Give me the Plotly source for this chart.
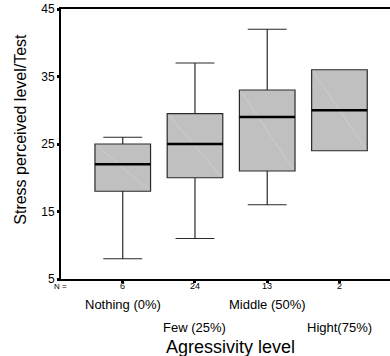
import plotly.graph_objects as go

categories = ["Nothing (0%)", "Few (25%)", "Middle (50%)", "Hight(75%)"]
n_values = ["6", "24", "13", "2"]
lower_whisker = [8, 11, 16, 24]
q1 = [18, 20, 21, 24]
median = [22, 25, 29, 30]
q3 = [25, 29.5, 33, 36]
upper_whisker = [26, 37, 42, 36]
y_ticks = [5, 15, 25, 35, 45]

FONT = "Liberation Sans, Arial, sans-serif"
xs = list(range(len(categories)))
BW = 0.77

fig = go.Figure()
fig.add_trace(go.Box(
    x=xs, q1=q1, median=median, q3=q3,
    lowerfence=lower_whisker, upperfence=upper_whisker,
    fillcolor="#c0c0c0", line=dict(color="#2a2a2a", width=1.2),
    width=BW, whiskerwidth=0.7, boxpoints=False, showlegend=False,
    hoverinfo="skip",
))
# faint diagonal artefact inside boxes and thick medians
for i in xs:
    fig.add_trace(go.Scatter(
        x=[i - BW / 2 + 0.02, i + BW / 2 - 0.02], y=[q3[i] - 0.2, q1[i] + 0.2],
        mode="lines", line=dict(color="#d2d2d2", width=0.7),
        showlegend=False, hoverinfo="skip"))
    fig.add_trace(go.Scatter(
        x=[i - BW / 2, i + BW / 2], y=[median[i], median[i]],
        mode="lines", line=dict(color="#000000", width=2.6),
        showlegend=False, hoverinfo="skip"))

annotations = []
# N labels
annotations.append(dict(x=-0.003, xref="paper", y=-0.026, yref="paper",
                        text="N =", showarrow=False, font=dict(size=8, family=FONT, color="#000"),
                        xanchor="center", yanchor="middle"))
for i in xs:
    annotations.append(dict(x=i, xref="x", y=-0.026, yref="paper", text=n_values[i],
                            showarrow=False, font=dict(size=9, family=FONT, color="#000"),
                            xanchor="center", yanchor="middle"))
    annotations.append(dict(x=i, xref="x", y=-0.096 if i % 2 == 0 else -0.178, yref="paper",
                            text=categories[i], showarrow=False,
                            font=dict(size=13, family=FONT, color="#000"),
                            xanchor="center", yanchor="middle"))
annotations.append(dict(x=(230 - 61) / 329, xref="paper", y=-0.252, yref="paper",
                        text="Agressivity level", showarrow=False,
                        font=dict(size=18, family=FONT, color="#000"),
                        xanchor="center", yanchor="middle"))
annotations.append(dict(x=-0.122, xref="paper", y=0.556, yref="paper",
                        text="Stress perceived level/Test", textangle=-90, showarrow=False,
                        font=dict(size=16, family=FONT, color="#000"),
                        xanchor="center", yanchor="middle"))

fig.update_layout(
    width=390, height=356,
    margin=dict(l=61, r=0, t=9, b=77),
    paper_bgcolor="white", plot_bgcolor="white",
    font=dict(family=FONT, color="#000"),
    annotations=annotations,
    xaxis=dict(range=[-0.855, 3.70], tickvals=xs, showticklabels=False,
               ticks="outside", ticklen=2, tickwidth=3, tickcolor="#000",
               showline=True, linecolor="#000", linewidth=1.5, mirror=True,
               showgrid=False, zeroline=False),
    yaxis=dict(range=[5, 45], tickvals=y_ticks, ticks="outside", ticklen=2, tickwidth=3,
               tickcolor="#000", tickfont=dict(size=12, family=FONT, color="#000"),
               showline=True, linecolor="#000", linewidth=2, showgrid=False, zeroline=False),
)
fig.write_html("out.html", config={"displayModeBar": False},
               post_script="document.body.style.margin='0';document.body.style.overflow='hidden';")
